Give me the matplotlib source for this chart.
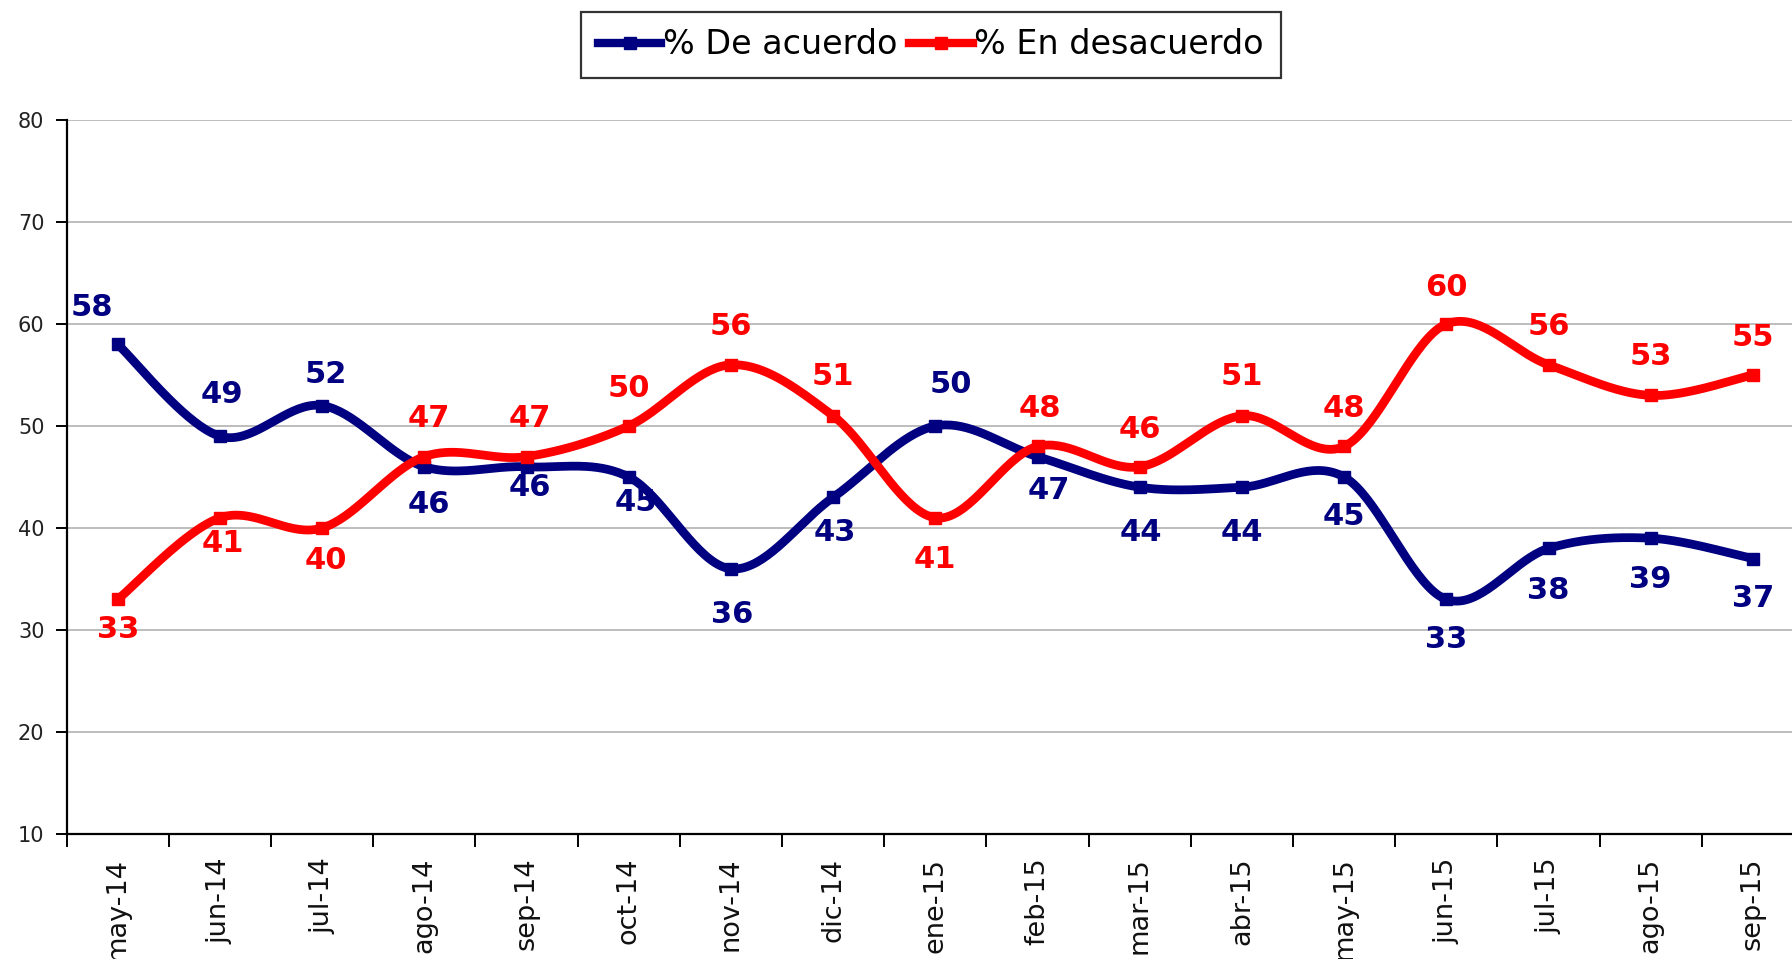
import numpy as np
import matplotlib
matplotlib.use("Agg")
import matplotlib.pyplot as plt
from matplotlib.lines import Line2D

# ---- data ----
months = ["may-14", "jun-14", "jul-14", "ago-14", "sep-14", "oct-14", "nov-14",
          "dic-14", "ene-15", "feb-15", "mar-15", "abr-15", "may-15", "jun-15",
          "jul-15", "ago-15", "sep-15"]
de_acuerdo = [58, 49, 52, 46, 46, 45, 36, 43, 50, 47, 44, 44, 45, 33, 38, 39, 37]
en_desacuerdo = [33, 41, 40, 47, 47, 50, 56, 51, 41, 48, 46, 51, 48, 60, 56, 53, 55]
series_names = ["% De acuerdo", "% En desacuerdo"]
y_ticks = [10, 20, 30, 40, 50, 60, 70, 80]

# ---- label offsets (pixels) ----
blue_offsets = [(-26, 37), (2, 42), (4, 31), (5, -38), (3, -21), (7, -25), (1, -46),
                (2, -35), (16, 42), (11, -34), (1, -45), (0, -45), (0, -39),
                (0, -40), (0, -42), (0, -41), (0, -40)]
red_offsets = [(0, -30), (3, -26), (4, -32), (5, 38), (3, 38), (0, 38), (0, 38),
               (0, 39), (0, -42), (2, 38), (0, 37), (0, 39), (0, 38), (0, 37),
               (0, 38), (0, 39), (0, 38)]

NAVY = "#000080"
RED = "#ff0000"


def smooth(xs, ys, n=40):
    """Cubic Bezier smoothing through every point (Catmull-Rom style)."""
    P = np.column_stack([xs, ys]).astype(float)
    ext = np.vstack([P[0], P, P[-1]])
    out = []
    t = np.linspace(0, 1, n)[:, None]
    for i in range(len(P) - 1):
        p0, p3 = P[i], P[i + 1]
        p1 = p0 + (ext[i + 2] - ext[i]) / 6.0
        p2 = p3 - (ext[i + 3] - ext[i + 1]) / 6.0
        seg = ((1 - t) ** 3) * p0 + 3 * ((1 - t) ** 2) * t * p1 + 3 * (1 - t) * t ** 2 * p2 + t ** 3 * p3
        out.append(seg if i == 0 else seg[1:])
    c = np.vstack(out)
    return c[:, 0], c[:, 1]


W, H = 1792, 959
fig = plt.figure(figsize=(W / 100, H / 100), dpi=100)
left_px, right_px, top_px, bot_px = 66.6, 1804.0, 120.0, 834.0
ax = fig.add_axes([left_px / W, 1 - bot_px / H, (right_px - left_px) / W, (bot_px - top_px) / H])

x = np.arange(len(months))
ax.set_xlim(-0.5, len(months) - 0.5)
ax.set_ylim(10, 80)

for vals, col, offs in [(de_acuerdo, NAVY, blue_offsets), (en_desacuerdo, RED, red_offsets)]:
    sx, sy = smooth(x, vals)
    ax.plot(sx, sy, color=col, lw=6.3, solid_capstyle="round", solid_joinstyle="round", zorder=3)
    ax.plot(x, vals, ls="none", marker="s", ms=9, color=col, zorder=4)
    for xi, v, (dx, dy) in zip(x, vals, offs):
        ax.annotate(str(v), (xi, v), xytext=(dx, dy), textcoords="offset pixels",
                    ha="center", va="center", fontsize=22, fontweight="bold",
                    color=col, zorder=5)

# axes styling
for s in ["top", "right"]:
    ax.spines[s].set_visible(False)
for s in ["left", "bottom"]:
    ax.spines[s].set_color("black")
    ax.spines[s].set_linewidth(1.6)

ax.set_yticks(y_ticks)
ax.set_yticklabels([str(v) for v in y_ticks])
ax.tick_params(axis="y", direction="out", length=8, width=1.4, pad=8,
               labelsize=15, labelcolor="#222222")
ax.yaxis.grid(True, color="#b8b8b8", lw=1.3)
ax.set_axisbelow(True)

ax.set_xticks(x)
ax.set_xticklabels(months, rotation=90)
ax.set_xticks(np.arange(-0.5, len(months)), minor=True)
ax.tick_params(axis="x", which="major", length=0, pad=17, labelsize=19.5, labelcolor="#111111")
ax.tick_params(axis="x", which="minor", direction="out", length=9.5, width=1.4)

# legend
handles = [Line2D([], [], color=NAVY, lw=6, marker="s", ms=8),
           Line2D([], [], color=RED, lw=6, marker="s", ms=8)]
leg = fig.legend(handles, series_names, loc="center", bbox_to_anchor=(931 / W, 1 - 45 / H),
                 ncol=2, fontsize=24, frameon=True, fancybox=False, handlelength=1.9,
                 handletextpad=0.05, columnspacing=0.35, borderpad=0.5, borderaxespad=0)
leg.get_frame().set_edgecolor("black")
leg.get_frame().set_linewidth(1.6)

fig.savefig("out.png", dpi=100)
